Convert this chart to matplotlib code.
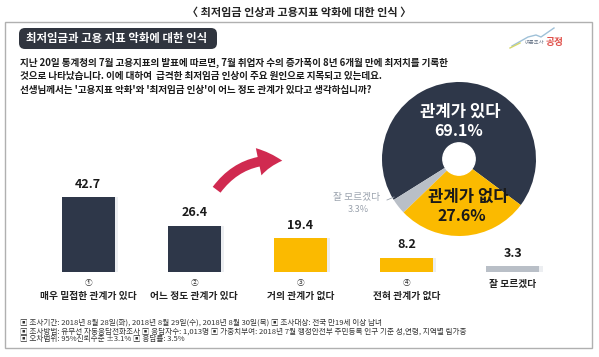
import numpy as np
import matplotlib
matplotlib.use("Agg")
from matplotlib import pyplot as plt
from matplotlib.patches import FancyBboxPatch, Rectangle, FancyArrowPatch, Circle

plt.rcParams['font.family'] = ['Noto Sans CJK KR', 'DejaVu Sans']

# data
cats = ['매우 밀접한 관계가 있다', '어느 정도 관계가 있다', '거의 관계가 없다', '전혀 관계가 없다', '잘 모르겠다']
nums = ['①', '②', '③', '④', '']
vals = [42.7, 26.4, 19.4, 8.2, 3.3]
pie_labels = ['관계가 있다', '잘 모르겠다', '관계가 없다']
pie_vals = [69.1, 3.3, 27.6]

navy = '#2e3749'
yellow = '#fbba00'
gray = '#b9bfc7'
bar_cols = [navy, navy, yellow, yellow, gray]
pie_cols = [navy, gray, yellow]

W, H = 599, 357
fig = plt.figure(figsize=(W / 100, H / 100), dpi=100)
bg = fig.add_axes([0, 0, 1, 1])
bg.set_xlim(0, W)
bg.set_ylim(H, 0)
bg.axis('off')

# top title
bg.text(W / 2, 12, '〈 최저임금 인상과 고용지표 악화에 대한 인식 〉', ha='center', va='center',
        fontsize=8, fontweight='bold', color='#222222')
# outer frame
bg.add_patch(Rectangle((5, 22), 587, 326, fill=False, ec='#b0b0b0', lw=1))
# header badge
bg.add_patch(FancyBboxPatch((19, 28), 198, 21, boxstyle='round,pad=0,rounding_size=6',
                            fc='#30353f', ec='none'))
bg.text(26, 38.5, '최저임금과 고용 지표 악화에 대한 인식', ha='left', va='center',
        fontsize=8.2, color='white', fontweight='bold')

# logo
bg.plot([512, 528, 536, 541, 554], [46, 37, 35, 37, 28], color='#9fc1d8', lw=1.0)
bg.plot([510, 520], [48, 43], color='#d6d86a', lw=1.0)
bg.text(544, 42, '여론조사', ha='right', va='center', fontsize=3.8, color='#6d7a8c')
bg.text(546, 41.5, '공정', ha='left', va='center', fontsize=7, color='#e0504a', fontweight='bold')

# question text
lines = ['지난 20일 통계청의 7월 고용지표의 발표에 따르면, 7월 취업자 수의 증가폭이 8년 6개월 만에 최저치를 기록한',
         '것으로 나타났습니다. 이에 대하여  급격한 최저임금 인상이 주요 원인으로 지목되고 있는데요.',
         "선생님께서는 '고용지표 악화'와 '최저임금 인상'이 어느 정도 관계가 있다고 생각하십니까?"]
for i, ln in enumerate(lines):
    bg.text(20, 63 + i * 13.5, ln, ha='left', va='center', fontsize=6.9, color='#1a1a1a', fontweight='bold')

# footnotes
notes = ['▣ 조사기간: 2018년 8월 28일(화), 2018년 8월 29일(수), 2018년 8월 30일(목) ▣ 조사대상: 전국 만19세 이상 남녀',
         '▣ 조사방법: 유무선 자동응답전화조사 ▣ 응답자수: 1,013명 ▣ 가중치부여: 2018년 7월 행정안전부 주민등록 인구 기준 성,연령, 지역별 림가중',
         '▣ 오차범위: 95%신뢰수준 ±3.1% ▣ 응답률: 3.5%']
for i, ln in enumerate(notes):
    bg.text(20, 323 + i * 8.2, ln, ha='left', va='center', fontsize=5.5, color='#333333')

# bar chart
base_y = 272
ppu = 1.76
top_y = base_y - 50 * ppu
x0 = 35
x1 = 566
ax = fig.add_axes([x0 / W, 1 - base_y / H, (x1 - x0) / W, (base_y - top_y) / H])
ax.patch.set_alpha(0)
xs = np.arange(len(vals))
ax.bar(xs + 0.015, vals, width=0.53, color='#eceef1', zorder=1)
ax.bar(xs, vals, width=0.5, color=bar_cols, zorder=2)
ax.set_xlim(-0.5, len(vals) - 0.5)
ax.set_ylim(0, 50)
ax.axis('off')
for x, v in zip(xs, vals):
    ax.text(x, v + 3.5, f'{v:.1f}', ha='center', va='bottom', fontsize=9, fontweight='bold', color='#1a1a1a')
for x, n, c in zip(xs, nums, cats):
    if n:
        ax.text(x, -6.5, n, ha='center', va='center', fontsize=5.5, color='#333333', clip_on=False)
        ax.text(x, -13.5, c, ha='center', va='center', fontsize=7, fontweight='bold', color='#222222', clip_on=False)
    else:
        ax.text(x, -7, c, ha='center', va='center', fontsize=7, fontweight='bold', color='#222222', clip_on=False)

# red arrow
bg.add_patch(FancyArrowPatch((215, 192), (285, 161), connectionstyle='arc3,rad=-0.3',
                             arrowstyle='simple,head_width=20,head_length=17,tail_width=7',
                             color='#d02a50', lw=0))

# pie / donut
cx, cy, r = 459, 159, 77
pax = fig.add_axes([(cx - r) / W, 1 - (cy + r) / H, 2 * r / W, 2 * r / H])
pax.pie(pie_vals, colors=pie_cols, startangle=-36.7, counterclock=True,
        wedgeprops=dict(linewidth=0))
pax.add_patch(Circle((0, 0), 0.21, color='white'))
pax.set_xlim(-1, 1)
pax.set_ylim(-1, 1)
pax.set_aspect('auto')
pax.axis('off')

# overlay for pie labels
top = fig.add_axes([0, 0, 1, 1])
top.set_xlim(0, W)
top.set_ylim(H, 0)
top.axis('off')
top.patch.set_alpha(0)
top.text(cx + 1, 112, pie_labels[0], ha='center', va='center', fontsize=12, fontweight='bold', color='white')
top.text(cx, 131, f'{pie_vals[0]}%', ha='center', va='center', fontsize=11.5, fontweight='bold', color='white')
top.text(cx + 9, 197, pie_labels[2], ha='center', va='center', fontsize=12, fontweight='bold', color='#1a1a1a')
top.text(cx + 3, 216, f'{pie_vals[2]}%', ha='center', va='center', fontsize=11.5, fontweight='bold', color='#1a1a1a')
top.text(357, 197, pie_labels[1], ha='center', va='center', fontsize=7, color='#9aa2ad')
top.text(358, 209, f'{pie_vals[1]}%', ha='center', va='center', fontsize=6.5, color='#9aa2ad')
top.plot([387, 394], [200, 197], color='#9aa2ad', lw=0.6)

fig.savefig('out.png', dpi=100)
